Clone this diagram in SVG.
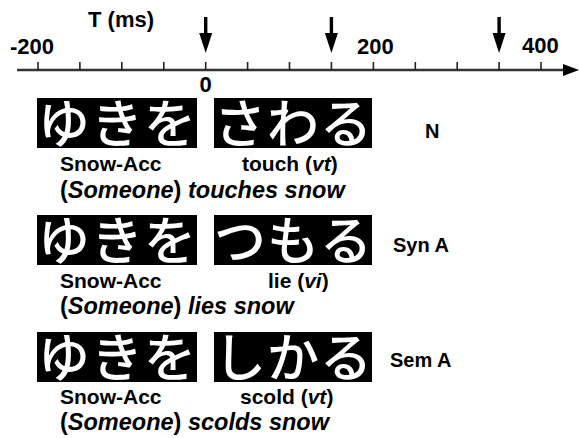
<svg xmlns="http://www.w3.org/2000/svg" width="579" height="438" viewBox="0 0 579 438">
<style>
.lbl{font-family:"Liberation Sans",Arial,sans-serif;font-weight:bold;fill:#000}
.ax{font-size:22px}
.gl{font-size:21px}
.sen{font-size:23.5px}
.tag{font-size:20px}
.it{font-style:italic}
.jp{font-family:"Noto Sans CJK JP",sans-serif;font-size:52px;font-weight:500;fill:#fff;text-anchor:middle}
.box{fill:#000}
.tick{stroke:#222;stroke-width:1.6}
</style>
<defs>
<g id="dn"><rect x="-1.7" y="0" width="3.4" height="18" fill="#000"/><polygon points="-6.5,16 6.5,16 0,36" fill="#000"/></g>
</defs>
<g id="axis">
<line x1="17" y1="70" x2="566" y2="70" stroke="#333" stroke-width="2.6"/>
<polygon points="563,64 579,70 563,76" fill="#000"/>
<g class="tick">
<line x1="38" y1="62" x2="38" y2="70"/><line x1="79.9" y1="62" x2="79.9" y2="70"/><line x1="121.8" y1="62" x2="121.8" y2="70"/><line x1="163.8" y1="62" x2="163.8" y2="70"/><line x1="205.7" y1="62" x2="205.7" y2="70"/><line x1="247.6" y1="62" x2="247.6" y2="70"/><line x1="289.5" y1="62" x2="289.5" y2="70"/><line x1="331.4" y1="62" x2="331.4" y2="70"/><line x1="373.4" y1="62" x2="373.4" y2="70"/><line x1="415.3" y1="62" x2="415.3" y2="70"/><line x1="457.2" y1="62" x2="457.2" y2="70"/><line x1="499.1" y1="62" x2="499.1" y2="70"/><line x1="541" y1="62" x2="541" y2="70"/>
</g>
<text class="lbl ax" x="88" y="27">T (ms)</text>
<text class="lbl ax" x="10" y="54">-200</text>
<text class="lbl ax" x="357" y="54">200</text>
<text class="lbl ax" x="522" y="53">400</text>
<text class="lbl ax" x="205.7" y="92" text-anchor="middle">0</text>
</g>
<g id="markers">
<use href="#dn" x="205.7" y="17"/>
<use href="#dn" x="331.4" y="17"/>
<use href="#dn" x="499.1" y="17"/>
</g>
<g id="row-N">
<rect class="box" x="37" y="98" width="160" height="50"/>
<rect class="box" x="214" y="98" width="158" height="50"/>
<text class="jp" y="142.5"><tspan x="64">ゆ</tspan><tspan x="117">き</tspan><tspan x="170">を</tspan></text>
<text class="jp" y="142.5"><tspan x="240">さ</tspan><tspan x="293">わ</tspan><tspan x="346">る</tspan></text>
<text class="lbl gl" x="60" y="171">Snow-Acc</text>
<text class="lbl gl" x="242" y="171">touch (<tspan class="it">vt</tspan>)</text>
<text class="lbl sen" x="60" y="198">(<tspan class="it">Someone</tspan>) <tspan class="it">touches snow</tspan></text>
<text class="lbl tag" x="425" y="138">N</text>
</g>
<g id="row-SynA">
<rect class="box" x="37" y="215" width="160" height="50"/>
<rect class="box" x="214" y="215" width="158" height="50"/>
<text class="jp" y="259.5"><tspan x="64">ゆ</tspan><tspan x="117">き</tspan><tspan x="170">を</tspan></text>
<text class="jp" y="259.5"><tspan x="240">つ</tspan><tspan x="293">も</tspan><tspan x="346">る</tspan></text>
<text class="lbl gl" x="60" y="288">Snow-Acc</text>
<text class="lbl gl" x="268" y="288">lie (<tspan class="it">vi</tspan>)</text>
<text class="lbl sen" x="60" y="314">(<tspan class="it">Someone</tspan>) <tspan class="it">lies snow</tspan></text>
<text class="lbl tag" x="393" y="252">Syn A</text>
</g>
<g id="row-SemA">
<rect class="box" x="37" y="332" width="160" height="50"/>
<rect class="box" x="214" y="332" width="158" height="50"/>
<text class="jp" y="376.5"><tspan x="64">ゆ</tspan><tspan x="117">き</tspan><tspan x="170">を</tspan></text>
<text class="jp" y="376.5"><tspan x="240">し</tspan><tspan x="293">か</tspan><tspan x="346">る</tspan></text>
<text class="lbl gl" x="60" y="404">Snow-Acc</text>
<text class="lbl gl" x="240" y="404">scold (<tspan class="it">vt</tspan>)</text>
<text class="lbl sen" x="60" y="430">(<tspan class="it">Someone</tspan>) <tspan class="it">scolds snow</tspan></text>
<text class="lbl tag" x="390" y="367">Sem A</text>
</g>
</svg>
